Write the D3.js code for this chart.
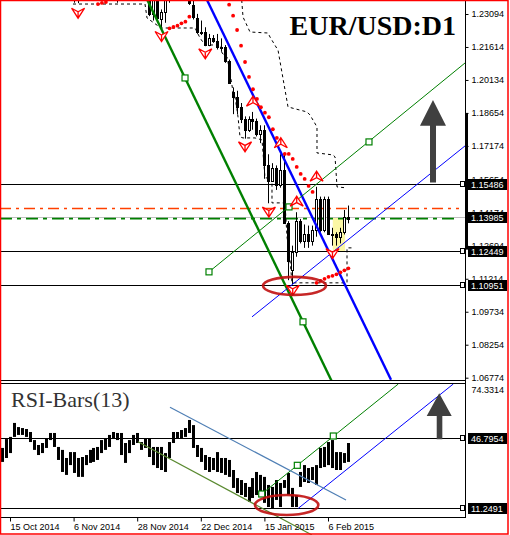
<!DOCTYPE html>
<html><head><meta charset="utf-8">
<script src="https://cdn.jsdelivr.net/npm/d3@7"></script>
<style>body{margin:0;background:#fff}svg{display:block}</style>
</head><body><svg id="c" width="510" height="535"></svg>
<script>
// ---------- DATA ----------
const dates = ["2014-10-13","2014-10-14","2014-10-15","2014-10-16","2014-10-17","2014-10-20","2014-10-21","2014-10-22","2014-10-23","2014-10-24",
"2014-10-27","2014-10-28","2014-10-29","2014-10-30","2014-10-31","2014-11-03","2014-11-04","2014-11-05","2014-11-06","2014-11-07",
"2014-11-10","2014-11-11","2014-11-12","2014-11-13","2014-11-14","2014-11-17","2014-11-18","2014-11-19","2014-11-20","2014-11-21",
"2014-11-24","2014-11-25","2014-11-26","2014-11-27","2014-11-28","2014-12-01","2014-12-02","2014-12-03","2014-12-04","2014-12-05",
"2014-12-08","2014-12-09","2014-12-10","2014-12-11","2014-12-12","2014-12-15","2014-12-16","2014-12-17","2014-12-18","2014-12-19",
"2014-12-22","2014-12-23","2014-12-24","2014-12-26","2014-12-29","2014-12-30","2014-12-31","2015-01-02","2015-01-05","2015-01-06",
"2015-01-07","2015-01-08","2015-01-09","2015-01-12","2015-01-13","2015-01-14","2015-01-15","2015-01-16","2015-01-19","2015-01-20",
"2015-01-21","2015-01-22","2015-01-23","2015-01-26","2015-01-27","2015-01-28","2015-01-29","2015-01-30","2015-02-02","2015-02-03",
"2015-02-04","2015-02-05","2015-02-06","2015-02-09","2015-02-10","2015-02-11","2015-02-12","2015-02-13"];
const open  = [1.2628,1.2740,1.2650,1.2830,1.2810,1.2760,1.2810,1.2710,1.2645,1.2650,1.2670,1.2700,1.2735,1.2630,1.2610,1.2525,1.2480,1.2545,1.2470,1.2380,
1.2450,1.2410,1.2420,1.2440,1.2470,1.2525,1.2480,1.2535,1.2545,1.2545,1.2390,1.2435,1.2470,1.2500,1.2470,1.2450,1.2470,1.2380,1.2310,1.2380,
1.2285,1.2318,1.2380,1.2450,1.2420,1.2460,1.2440,1.2500,1.2350,1.2290,1.2230,1.2230,1.2170,1.2200,1.2190,1.2160,1.2160,1.2100,1.1960,1.1935,
1.1890,1.1840,1.1790,1.1840,1.1830,1.1770,1.1790,1.1630,1.1560,1.1620,1.1540,1.1610,1.1370,1.1160,1.1240,1.1380,1.1290,1.1320,1.1290,1.1340,
1.1480,1.1340,1.1480,1.1320,1.1320,1.1310,1.1330,1.1400];
const high  = [1.2750,1.2745,1.2887,1.2840,1.2810,1.2840,1.2830,1.2730,1.2680,1.2690,1.2720,1.2750,1.2770,1.2640,1.2620,1.2530,1.2550,1.2550,1.2530,1.2480,
1.2475,1.2480,1.2450,1.2490,1.2530,1.2580,1.2545,1.2600,1.2570,1.2555,1.2440,1.2500,1.2530,1.2505,1.2475,1.2500,1.2480,1.2395,1.2456,1.2390,
1.2330,1.2420,1.2460,1.2460,1.2470,1.2480,1.2570,1.2510,1.2375,1.2310,1.2280,1.2250,1.2220,1.2215,1.2220,1.2200,1.2170,1.2105,1.1980,1.1965,
1.1910,1.1850,1.1850,1.1870,1.1840,1.1810,1.1810,1.1680,1.1640,1.1630,1.1680,1.1680,1.1380,1.1270,1.1420,1.1390,1.1365,1.1360,1.1360,1.1534,
1.1490,1.1490,1.1490,1.1350,1.1330,1.1350,1.1430,1.1450];
const low   = [1.2620,1.2640,1.2620,1.2750,1.2740,1.2750,1.2700,1.2640,1.2615,1.2640,1.2660,1.2690,1.2630,1.2545,1.2480,1.2445,1.2460,1.2440,1.2360,1.2358,
1.2390,1.2400,1.2390,1.2430,1.2420,1.2445,1.2460,1.2530,1.2510,1.2360,1.2380,1.2420,1.2460,1.2450,1.2440,1.2430,1.2380,1.2300,1.2280,1.2270,
1.2247,1.2270,1.2360,1.2380,1.2380,1.2420,1.2420,1.2350,1.2285,1.2220,1.2215,1.2165,1.2165,1.2180,1.2150,1.2140,1.2090,1.2000,1.1860,1.1860,
1.1820,1.1750,1.1780,1.1790,1.1760,1.1730,1.1570,1.1460,1.1560,1.1520,1.1530,1.1370,1.1115,1.1098,1.1220,1.1280,1.1260,1.1260,1.1270,1.1310,
1.1330,1.1330,1.1320,1.1270,1.1270,1.1280,1.1320,1.1370];
const close = [1.2740,1.2650,1.2830,1.2810,1.2760,1.2810,1.2710,1.2645,1.2650,1.2670,1.2700,1.2735,1.2630,1.2610,1.2525,1.2480,1.2545,1.2470,1.2380,1.2450,
1.2410,1.2420,1.2440,1.2470,1.2525,1.2480,1.2535,1.2545,1.2545,1.2390,1.2435,1.2470,1.2500,1.2470,1.2450,1.2470,1.2380,1.2310,1.2380,1.2290,
1.2318,1.2380,1.2450,1.2420,1.2460,1.2440,1.2500,1.2360,1.2295,1.2230,1.2230,1.2170,1.2200,1.2190,1.2160,1.2160,1.2100,1.2000,1.1935,1.1890,
1.1840,1.1790,1.1840,1.1830,1.1770,1.1790,1.1630,1.1560,1.1620,1.1540,1.1610,1.1370,1.1200,1.1240,1.1380,1.1290,1.1320,1.1290,1.1340,1.1480,
1.1340,1.1480,1.1320,1.1320,1.1310,1.1330,1.1400,1.1390];

// RSI-Bars(13): high / low of each bar
const rsiHigh = [41.9,46.4,47.5,54.6,52.5,52.0,51.5,50.0,45.9,43.4,44.4,46.9,49.5,49.5,42.4,40.9,36.8,39.8,39.8,36.8,
37.3,38.3,40.9,41.9,42.4,45.9,46.9,48.5,50.0,49.5,49.5,44.4,45.9,48.5,49.5,44.9,46.9,46.9,42.4,42.4,
42.4,39.3,44.9,50.0,50.0,51.0,52.0,56.1,53.5,43.4,41.9,38.3,37.3,36.8,39.8,36.8,36.8,35.8,30.7,26.6,
25.6,24.1,22.1,26.6,29.7,28.2,27.2,23.1,22.1,25.6,24.1,25.6,29.2,21.6,18.0,29.7,33.2,31.7,32.2,33.2,
41.9,42.4,44.9,45.9,39.8,39.8,39.3,44.4];
const rsiLow  = [34.8,36.8,39.3,47.5,48.5,48.5,47.5,44.9,40.9,38.3,39.3,41.9,45.9,42.4,35.8,29.7,28.2,33.2,29.2,27.2,
27.2,33.2,34.3,34.8,35.8,39.3,40.9,42.4,46.9,45.9,38.3,34.3,39.3,43.4,44.4,40.9,41.9,37.3,33.2,31.7,
30.7,29.7,36.8,44.4,46.9,46.9,47.5,49.5,41.9,37.3,34.8,30.7,29.7,30.7,29.7,29.2,28.2,27.2,21.6,19.0,
18.0,17.0,14.5,16.5,18.0,17.0,14.0,11.9,11.4,15.5,11.9,21.6,18.0,11.9,11.9,22.1,24.6,24.1,25.6,23.1,
31.7,32.2,33.2,31.7,30.7,30.7,34.3,34.8];

// Parabolic SAR dots [bar index, price]
const sarIdx   = [24,25,26, 42,43,44,45,46,47, 57,58,59,60,61,62,63,64,65,66,67,68,69, 71,72,73,74,75,76,77,78, 79,80,81,82,83,84,85,86,87];
const sarPrice = [1.2354,1.2359,1.2363, 1.22453,1.22511,1.2257,1.22677,1.22749,1.22973,
 1.23511,1.23018,1.22376,1.21672,1.20941,1.20269,1.19717,1.19282,1.1891,1.18668,1.18461,1.17923,1.17533,
 1.16815,1.16815,1.16591,1.16232,1.15916,1.15692,1.1538,1.15111,
 1.1103,1.1112,1.1121,1.113,1.11344,1.11411,1.11501,1.11591,1.1168];

// Fractals [bar index, marker price]
const fracDownIdx = [19,30,40,51,61,67,73,83];
const fracDownPx  = [1.23152,1.2405,1.22107,1.21331,1.17152,1.14227,1.10716,1.12362];
const fracUpIdx   = [63,70,74,79];
const fracUpPx    = [1.19161,1.17295,1.14676,1.15797];

// Price channel bands [index, price]
const bandUpper = [[60.29,1.23722],[60.62,1.22959],[62.38,1.22286],[66.91,1.22241],[67.41,1.22062],[68.92,1.21614],[69.42,1.21479],
 [71.94,1.18923],[76.72,1.18699],[77.47,1.18564],[79.23,1.18026],[79.23,1.1686],[83.26,1.1677],[83.77,1.16681],[84.27,1.15335],[86.78,1.1529]];
const bandLower = [[17.85,1.23542],[35.96,1.23542],[36.47,1.22915],[39.99,1.22466],[48.54,1.22466],[49.8,1.22018],[51.06,1.21704],[55.08,1.21704],
 [55.33,1.21345],[56.59,1.21166],[57.35,1.20448],[58.1,1.19596],[58.6,1.19372],[59.11,1.18789],[59.36,1.18475],[59.86,1.17578],[60.62,1.17533],
 [63.64,1.17533],[65.4,1.17443],[66.15,1.15739],[67.91,1.15739],[67.91,1.14618],[71.18,1.14618],[71.69,1.13093],[72.44,1.12062],[72.94,1.1103],
 [86.78,1.1103],[86.78,1.126],[88.04,1.126]];

// Levels
const levelsSolid = [1.15486,1.12449,1.10951];
const levelBid = 1.13985;
const levelOrange = 1.1438;
const levelGreen = 1.13932;
const priceTicks = [1.23094,1.21614,1.20134,1.18654,1.17174,1.15654,1.14174,1.12694,1.11214,1.09734,1.08254,1.06774];
const priceBoxes = [1.15486,1.13985,1.12449,1.10951];
const rsiTop = 74.3314;
const rsiBoxes = [46.7954,11.2491];
const dateTickIdx = [2,18,34,50,66,82];
const dateTickLabels = ["15 Oct 2014","6 Nov 2014","28 Nov 2014","22 Dec 2014","15 Jan 2015","6 Feb 2015"];

// Trend lines [index, price]
const greenThick = [[36.54,1.23722],[83.01,1.0659]];
const greenThickMarks = [[46.03,1.20224],[75.71,1.09281]];
const blueThick = [[51.56,1.23722],[97.85,1.0668]];
const greenThin = [[52.06,1.11523],[116.47,1.20896]];
const greenThinMarks = [[52.06,1.11523],[72.19,1.14438],[92.31,1.17354]];
const blueThin = [[62.88,1.09505],[116.47,1.17174]];
// RSI trend lines [index, rsi]
const rsiSteel = [[42.25,62.54],[86.53,15.46]];
const rsiOlive = [[34.2,45.07],[77.97,-2.31]];
const rsiGreen = [[65.32,18.51],[99.68,74.37]];
const rsiGreenMarks = [[65.32,18.51],[74.28,33.08],[83.33,47.96]];
const rsiBlue = [[74.53,11.25],[113.52,74.37]];
// Annotations
const mainEllipse = {i:73.57, p:1.10895, ri:7.92, rp:0.00404};
const rsiEllipse = {i:71.6, v:12.93, ri:7.97, rv:5.08};
const yellowBox = {i0:83.2, i1:86.3, p0:1.1245, p1:1.1398};
const mainArrow = {i0:105.14, i1:111.68, s0:107.66, s1:109.17, tip:1.19237, base:1.18085, end:1.15528};
const rsiArrow = {i0:106.83, i1:113.12, s0:109.35, s1:110.76, tip:69.65, base:58.12, end:46.29};

// ---------- SCALES ----------
const svg = d3.select("#c");
const W = 465;
const xi = d3.scaleLinear().domain([0, 87]).range([2.05, 347.88]);
const y = d3.scaleLinear().domain([1.06774, 1.23094]).range([377.7, 14]);
const yr = d3.scaleLinear().domain([11.2491, 46.7954]).range([508.3, 438.3]);

const defs = svg.append("defs");
defs.append("clipPath").attr("id","cm").append("rect").attr("x",0).attr("y",0).attr("width",W).attr("height",380);
defs.append("clipPath").attr("id","cr").append("rect").attr("x",0).attr("y",383).attr("width",W).attr("height",134);
defs.append("clipPath").attr("id","call").append("rect").attr("x",0).attr("y",383).attr("width",W).attr("height",152);

const main = svg.append("g").attr("clip-path","url(#cm)");

// yellow box
main.append("rect").attr("x", xi(yellowBox.i0)).attr("y", y(yellowBox.p1))
  .attr("width", xi(yellowBox.i1)-xi(yellowBox.i0)).attr("height", y(yellowBox.p0)-y(yellowBox.p1))
  .attr("fill","#fbf7a0").attr("opacity",0.95);

// levels
levelsSolid.forEach(p => main.append("line").attr("x1",0).attr("x2",W-3).attr("y1",Math.round(y(p))+0.5).attr("y2",Math.round(y(p))+0.5).attr("stroke","#000").attr("stroke-width",1));
main.append("line").attr("x1",0).attr("x2",W).attr("y1",Math.round(y(levelBid))+0.5).attr("y2",Math.round(y(levelBid))+0.5).attr("stroke","#c0c0c0");
main.append("line").attr("x1",0).attr("x2",W-6).attr("y1",Math.round(y(levelOrange))+0.5).attr("y2",Math.round(y(levelOrange))+0.5)
  .attr("stroke","#ff4000").attr("stroke-width",1.3).attr("stroke-dasharray","11,5,3,5");
main.append("line").attr("x1",0).attr("x2",W-6).attr("y1",y(levelGreen)+0.5).attr("y2",y(levelGreen)+0.5)
  .attr("stroke","#008000").attr("stroke-width",1.8).attr("stroke-dasharray","12,5,4,5");

// bands
const bl = d3.line().x(d=>xi(d[0])).y(d=>y(d[1]));
[bandUpper, bandLower].forEach(b => main.append("path").attr("d", bl(b)).attr("fill","none").attr("stroke","#000").attr("stroke-width",1).attr("stroke-dasharray","3,3"));

// candles
const cg = main.append("g");
dates.forEach((d,i) => {
  const cx = Math.round(xi(i));
  const o=open[i], c=close[i];
  cg.append("line").attr("x1",cx+0.5).attr("x2",cx+0.5).attr("y1",y(high[i])).attr("y2",y(low[i])).attr("stroke","#000").attr("stroke-width",1);
  const yt = Math.round(y(Math.max(o,c))), yb = Math.round(y(Math.min(o,c)));
  if (c >= o) {
    cg.append("rect").attr("x",cx-0.5).attr("y",yt+0.5).attr("width",2).attr("height",Math.max(yb-yt,1)).attr("fill","#fff").attr("stroke","#000").attr("stroke-width",1);
  } else {
    cg.append("rect").attr("x",cx-1).attr("y",yt).attr("width",3).attr("height",Math.max(yb-yt,1)+1).attr("fill","#000");
  }
});

// trend lines
const tl = (pts, col, w) => main.append("path").attr("d", bl(pts)).attr("fill","none").attr("stroke",col).attr("stroke-width",w);
tl(greenThick, "#008000", 2.4);
tl(blueThick, "#0000ff", 2.4);
tl(greenThin, "#008000", 1);
tl(blueThin, "#0000ff", 1);
greenThickMarks.concat(greenThinMarks).forEach(m => main.append("rect").attr("x",xi(m[0])-3).attr("y",y(m[1])-3).attr("width",6).attr("height",6)
  .attr("fill","#fff").attr("stroke","#008000").attr("stroke-width",1.2));

// SAR
sarIdx.forEach((ix,k) => main.append("circle").attr("cx",xi(ix)+0.5).attr("cy",y(sarPrice[k])).attr("r",1.9).attr("fill","#ff0000"));

// fractals
const fd = "M-6.5,-4.5 L0,-1 L6.5,-4.5 L0,5.5 Z M0,-1 L0,5.5";
const fu = "M-6.5,4.5 L0,1 L6.5,4.5 L0,-5.5 Z M0,1 L0,-5.5";
fracDownIdx.forEach((ix,k) => main.append("path").attr("d",fd).attr("transform",`translate(${xi(ix)+0.5},${y(fracDownPx[k])})`)
  .attr("fill","#fff").attr("stroke","#ff0000").attr("stroke-width",1.3));
fracUpIdx.forEach((ix,k) => main.append("path").attr("d",fu).attr("transform",`translate(${xi(ix)+0.5},${y(fracUpPx[k])})`)
  .attr("fill","#fff").attr("stroke","#ff0000").attr("stroke-width",1.3));

// ellipse
main.append("ellipse").attr("cx",xi(mainEllipse.i)).attr("cy",y(mainEllipse.p))
  .attr("rx",xi(mainEllipse.i+mainEllipse.ri)-xi(mainEllipse.i)).attr("ry",y(mainEllipse.p-mainEllipse.rp)-y(mainEllipse.p))
  .attr("fill","none").attr("stroke","#c01010").attr("stroke-width",2.6).attr("opacity",0.9);

// arrow
const arrow = (g, a, ys) => {
  const pts = [[xi(a.i0), ys(a.base)],[xi((a.i0+a.i1)/2), ys(a.tip)],[xi(a.i1), ys(a.base)],[xi(a.s1), ys(a.base)],[xi(a.s1), ys(a.end)],[xi(a.s0), ys(a.end)],[xi(a.s0), ys(a.base)]];
  g.append("polygon").attr("points", pts.map(p=>p.join(",")).join(" ")).attr("fill","#404040");
};
arrow(main, mainArrow, y);

// title
svg.append("text").attr("x",456).attr("y",35).attr("text-anchor","end").attr("font-family","Liberation Serif, Times New Roman, serif")
  .attr("font-weight","bold").attr("font-size",28).attr("fill","#000").text("EUR/USD:D1");

// ---------- RSI PANEL ----------
const rg = svg.append("g").attr("clip-path","url(#cr)");
rsiBoxes.forEach(v => rg.append("line").attr("x1",0).attr("x2",W-3).attr("y1",Math.round(yr(v))+0.5).attr("y2",Math.round(yr(v))+0.5).attr("stroke","#000"));
dates.forEach((d,i) => {
  const cx = Math.round(xi(i));
  rg.append("rect").attr("x",cx-1).attr("y",yr(rsiHigh[i])).attr("width",3).attr("height",yr(rsiLow[i])-yr(rsiHigh[i])).attr("fill","#000");
});
const rl = d3.line().x(d=>xi(d[0])).y(d=>yr(d[1]));
const rg2 = svg.append("g").attr("clip-path","url(#call)");
rg2.append("path").attr("d",rl(rsiSteel)).attr("stroke","#4f7fb5").attr("fill","none").attr("stroke-width",1.2);
rg2.append("path").attr("d",rl(rsiOlive)).attr("stroke","#5a8a30").attr("fill","none").attr("stroke-width",1.2);
rg.append("path").attr("d",rl(rsiGreen)).attr("stroke","#008000").attr("fill","none").attr("stroke-width",1);
rg.append("path").attr("d",rl(rsiBlue)).attr("stroke","#0000ff").attr("fill","none").attr("stroke-width",1);
rsiGreenMarks.forEach(m => rg.append("rect").attr("x",xi(m[0])-3).attr("y",yr(m[1])-3).attr("width",6).attr("height",6)
  .attr("fill","#fff").attr("stroke","#008000").attr("stroke-width",1.2));
rg2.append("ellipse").attr("cx",xi(rsiEllipse.i)).attr("cy",yr(rsiEllipse.v))
  .attr("rx",xi(rsiEllipse.i+rsiEllipse.ri)-xi(rsiEllipse.i)).attr("ry",yr(rsiEllipse.v-rsiEllipse.rv)-yr(rsiEllipse.v))
  .attr("fill","none").attr("stroke","#c01010").attr("stroke-width",2.6).attr("opacity",0.9);
arrow(rg, rsiArrow, yr);
svg.append("text").attr("x",11).attr("y",407).attr("font-family","Liberation Serif, Times New Roman, serif")
  .attr("font-size",22).attr("fill","#333").text("RSI-Bars(13)");

// ---------- FRAMES & AXES ----------
svg.append("line").attr("x1",0).attr("x2",W).attr("y1",380.5).attr("y2",380.5).attr("stroke","#000");
svg.append("line").attr("x1",0).attr("x2",W).attr("y1",383.5).attr("y2",383.5).attr("stroke","#000");
svg.append("line").attr("x1",0).attr("x2",W).attr("y1",517.5).attr("y2",517.5).attr("stroke","#000");
svg.append("line").attr("x1",W+0.5).attr("x2",W+0.5).attr("y1",0).attr("y2",518).attr("stroke","#000");
svg.append("rect").attr("x",W).attr("y",y(1.18654)).attr("width",3).attr("height",y(1.1252)-y(1.18654)).attr("fill","#000");

const fnt = "Liberation Sans, Arial, sans-serif";
// price axis: labels hidden under value boxes are clipped so only their tops peek out
defs.append("clipPath").attr("id","cpa").append("path")
  .attr("d", (() => { let d = "M0,0 H510 V535 H0 Z"; return d; })());
const pa = svg.append("g").attr("transform",`translate(${W+0.5},0)`)
  .call(d3.axisRight(y).tickValues(priceTicks).tickSize(3).tickFormat(d3.format(".5f")));
pa.select(".domain").remove();
pa.selectAll("text").attr("font-family",fnt).attr("font-size",9).attr("fill","#000").attr("x",6);
pa.selectAll("line").attr("stroke","#000");

const ra = svg.append("g").attr("transform",`translate(${W+0.5},0)`)
  .call(d3.axisRight(yr).tickValues([rsiTop]).tickSize(0).tickFormat(d3.format(".4f")));
ra.select(".domain").remove();
ra.selectAll(".tick").attr("transform",`translate(0,${yr(rsiTop)+6})`);
ra.selectAll("text").attr("font-family",fnt).attr("font-size",9).attr("fill","#000").attr("x",6);

const box = (yy, label) => {
  const g = svg.append("g");
  g.append("rect").attr("x",468).attr("y",Math.round(yy)-5).attr("width",39).attr("height",11).attr("fill","#000");
  g.append("text").attr("x",471).attr("y",Math.round(yy)+4).attr("font-family",fnt).attr("font-size",9).attr("fill","#fff").text(label);
};
priceBoxes.forEach(p => box(y(p), d3.format(".5f")(p)));
rsiBoxes.forEach(v => box(yr(v), d3.format(".4f")(v)));
[1.15486,1.12449,1.10951].forEach(p => svg.append("rect").attr("x",460.5).attr("y",Math.round(y(p))-2.5).attr("width",4).attr("height",5).attr("fill","#fff").attr("stroke","#000"));
rsiBoxes.forEach(v => svg.append("rect").attr("x",460.5).attr("y",Math.round(yr(v))-2.5).attr("width",4).attr("height",5).attr("fill","#fff").attr("stroke","#000"));

const da = svg.append("g").attr("transform","translate(0,517.5)")
  .call(d3.axisBottom(xi).tickValues(dateTickIdx).tickSize(4).tickFormat((d,k)=>dateTickLabels[k]));
da.select(".domain").remove();
da.selectAll("text").attr("font-family",fnt).attr("font-size",9).attr("fill","#000").attr("text-anchor","start").attr("x",0).attr("y",6).attr("dy","0.71em");

// outer red frame
svg.append("rect").attr("x",0.5).attr("y",0.5).attr("width",507.5).attr("height",533.5).attr("fill","none").attr("stroke","#ff0000").attr("stroke-width",1.5);
</script></body></html>
